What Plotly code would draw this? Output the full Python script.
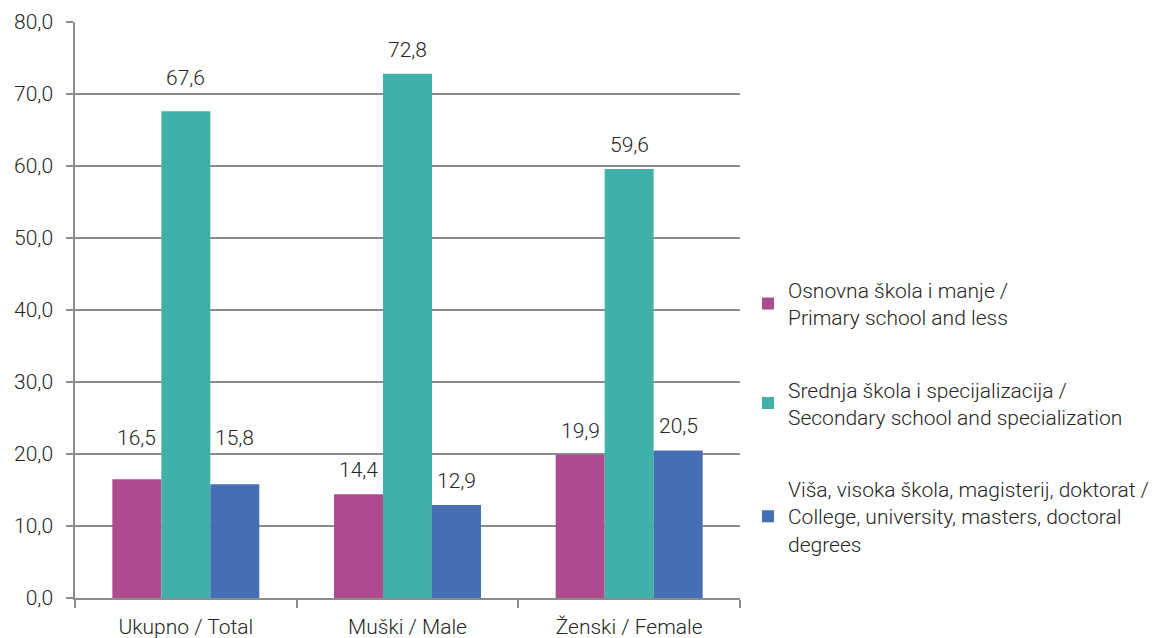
import plotly.graph_objects as go

# data
categories = ["Ukupno / Total", "Muški / Male", "Ženski / Female"]
primary = [16.5, 14.4, 19.9]
secondary = [67.6, 72.8, 59.6]
higher = [15.8, 12.9, 20.5]

series_names = [
    "Osnovna škola i manje /<br>Primary school and less",
    "Srednja škola i specijalizacija /<br>Secondary school and specialization",
    "Viša, visoka škola, magisterij, doktorat /<br>College, university, masters, doctoral<br>degrees",
]
colors = ["#AE4B8F", "#40B0A9", "#456EB4"]

FONT = "Roboto"
FS = 21
TXT = "#262626"
GRID = "#8c8c8c"

fig = go.Figure()
all_series = [primary, secondary, higher]
for i, (vals, name, col) in enumerate(zip(all_series, series_names, colors)):
    fig.add_trace(go.Bar(
        x=categories, y=vals, name=name,
        marker=dict(color=col, line=dict(width=0)),
        legendgroup=str(i),
        hoverinfo="skip",
    ))

# value labels above bars (a few were nudged up by hand in the original)
offsets = [-49, 0, 49]
nudge = {(0, 0): 17, (1, 0): 9, (2, 0): 22}
for s, (vals, dx) in enumerate(zip(all_series, offsets)):
    for c, (cat, v) in enumerate(zip(categories, vals)):
        fig.add_annotation(
            x=cat, y=v, text=f"{v:.1f}".replace(".", ","),
            showarrow=False, xshift=dx, yshift=10 + nudge.get((s, c), 0),
            yanchor="bottom",
            font=dict(family=FONT, size=FS, color=TXT, weight=300),
        )

# the page adds an 8px body margin, so margins are offset by that
fig.update_layout(
    width=1161, height=638,
    margin=dict(l=67, r=429, t=14, b=48),
    paper_bgcolor="white", plot_bgcolor="white",
    separators=",.",
    barmode="group", bargap=0.337, bargroupgap=0,
    font=dict(family=FONT, size=FS, color=TXT, weight=300),
    showlegend=True,
    legend=dict(
        x=1.012, xanchor="left", y=0.314, yanchor="middle",
        font=dict(family=FONT, size=FS, color=TXT, weight=300),
        tracegroupgap=42, itemwidth=30, traceorder="grouped",
    ),
    xaxis=dict(
        automargin=False,
        showline=True, linecolor=GRID, linewidth=1.5,
        ticks="outside", tickson="boundaries", ticklen=8, tickcolor=GRID,
        tickwidth=1.5, showgrid=False, ticklabelstandoff=9,
        tickfont=dict(family=FONT, size=FS, color=TXT, weight=300),
    ),
    yaxis=dict(
        automargin=False,
        range=[0, 80], dtick=10, tickformat=".1f",
        showline=True, linecolor=GRID, linewidth=1.5,
        ticks="outside", ticklen=7, tickcolor=GRID, tickwidth=1.5,
        showgrid=True, gridcolor=GRID, gridwidth=1.5,
        zeroline=False, ticklabelstandoff=9,
        tickfont=dict(family=FONT, size=FS, color=TXT, weight=300),
    ),
)

fig.write_html("out.html")
